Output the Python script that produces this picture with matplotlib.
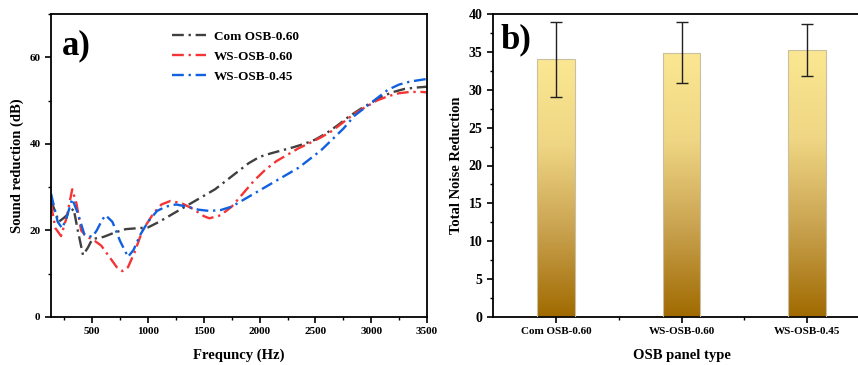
import numpy as np
import matplotlib
matplotlib.use("Agg")
import matplotlib.pyplot as plt
from matplotlib.colors import LinearSegmentedColormap

plt.rcParams['font.family'] = ['Liberation Serif', 'DejaVu Serif']
plt.rcParams['font.weight'] = 'bold'

# ---- data: panel a ----
freq_com = [130, 200, 250, 333, 370, 417, 460, 500, 600, 700, 800, 900, 1000, 1100, 1200, 1300,
            1400, 1500, 1600, 1700, 1800, 1900, 2000, 2100, 2200, 2300, 2400, 2500, 2600,
            2700, 2800, 2900, 3000, 3100, 3200, 3300, 3400, 3500]
sr_com = [27.0, 22.0, 23.0, 25.0, 20.0, 14.3, 16.0, 18.0, 18.5, 19.5, 20.3, 20.5, 20.7, 22.0, 23.5, 25.0,
          26.5, 28.0, 29.5, 31.5, 33.5, 35.5, 37.0, 37.8, 38.5, 39.2, 40.0, 41.0, 42.5,
          44.3, 46.3, 48.0, 49.5, 51.0, 52.0, 52.7, 53.0, 53.2]

freq_ws60 = [130, 170, 220, 270, 320, 360, 400, 450, 500, 580, 650, 720, 770, 820, 880, 950,
             1050, 1120, 1200, 1300, 1400, 1500, 1550, 1650, 1750, 1850, 1950, 2050, 2150,
             2250, 2350, 2450, 2550, 2650, 2750, 2850, 2950, 3050, 3150, 3250, 3350, 3450, 3500]
sr_ws60 = [26.0, 20.5, 18.7, 23.0, 29.5, 26.0, 20.0, 18.5, 18.0, 16.5, 14.0, 11.5, 10.6, 11.5, 15.0, 20.0,
           24.0, 26.0, 26.8, 26.3, 25.0, 23.3, 22.8, 23.5, 25.5, 28.5, 31.5, 34.0, 36.0,
           37.5, 39.0, 40.2, 41.5, 43.0, 45.0, 47.0, 48.5, 50.0, 51.0, 51.7, 52.0, 52.0, 51.9]

freq_ws45 = [130, 190, 230, 270, 320, 370, 430, 500, 540, 590, 620, 680, 750, 820, 870, 930,
             1000, 1080, 1160, 1250, 1350, 1450, 1550, 1650, 1750, 1850, 1950, 2050, 2150,
             2250, 2350, 2450, 2550, 2650, 2750, 2850, 2950, 3050, 3150, 3250, 3350, 3450, 3500]
sr_ws45 = [28.5, 22.0, 20.5, 23.0, 27.3, 24.0, 19.0, 18.5, 20.0, 22.5, 23.5, 22.0, 17.5, 13.9, 15.5, 19.0,
           22.0, 24.5, 25.5, 26.0, 25.5, 24.8, 24.5, 24.7, 25.5, 27.0, 28.5, 30.0, 31.5,
           33.0, 34.5, 36.5, 38.5, 41.0, 43.5, 46.5, 48.5, 50.5, 52.5, 53.7, 54.4, 54.8, 55.0]

# ---- data: panel b ----
panel_types = ['Com OSB-0.60', 'WS-OSB-0.60', 'WS-OSB-0.45']
total_nr = [34.0, 34.9, 35.2]
total_nr_err = [5.0, 4.0, 3.45]

W, H = 858, 365
fig = plt.figure(figsize=(W / 100, H / 100), dpi=100)

def box(l, t, r, b):
    return [l / W, 1 - b / H, (r - l) / W, (b - t) / H]

dash = (5, 2, 1, 2)

# ---------- panel a ----------
ax1 = fig.add_axes(box(51, 14, 427, 317))
ax1.plot(freq_com, sr_com, color='#404040', ls=(0, dash), lw=1.7, label='Com OSB-0.60')
ax1.plot(freq_ws60, sr_ws60, color='#F53535', ls=(0, dash), lw=1.7, label='WS-OSB-0.60')
ax1.plot(freq_ws45, sr_ws45, color='#1060E0', ls=(0, dash), lw=1.7, label='WS-OSB-0.45')
ax1.set_xlim(130, 3500)
ax1.set_ylim(0, 70)
ax1.set_xticks([500, 1000, 1500, 2000, 2500, 3000, 3500])
ax1.set_xticks(np.arange(250, 3500, 500), minor=True)
ax1.set_yticks([0, 20, 40, 60])
ax1.set_yticks([10, 30, 50, 70], minor=True)
ax1.tick_params(labelsize=8, width=1.2, length=4, direction='out')
ax1.tick_params(which='minor', width=1.0, length=2.5, direction='out')
for s in ax1.spines.values():
    s.set_linewidth(1.3)
ax1.set_xlabel('Frequncy (Hz)', fontsize=10.5, fontweight='bold', labelpad=9)
ax1.set_ylabel('Sound reduction (dB)', fontsize=10.5, fontweight='bold', labelpad=4)
ax1.text(0.03, 0.95, 'a)', transform=ax1.transAxes, fontsize=25, fontweight='bold', va='top')
leg = ax1.legend(loc='upper left', bbox_to_anchor=(0.29, 0.985), frameon=False, fontsize=9.5,
                 handlelength=2.6, labelspacing=0.6, handletextpad=0.6)

# ---------- panel b ----------
ax2 = fig.add_axes(box(493, 14, 870, 317))
x = np.arange(len(panel_types))
bars = ax2.bar(x, total_nr, width=0.3, color='none', edgecolor='#C8C0A0', lw=0.8, zorder=3)
cmap = LinearSegmentedColormap.from_list('gold', ['#A06A00', '#C9A24F', '#EFD684', '#FBE792'])
grad = np.linspace(0, 1, 256).reshape(-1, 1)
for b in bars:
    bx, by = b.get_x(), b.get_y()
    bw, bh = b.get_width(), b.get_height()
    im = ax2.imshow(grad, cmap=cmap, aspect='auto', origin='lower',
                    extent=[bx, bx + bw, by, by + bh], zorder=2)
    im.set_clip_path(b)
ax2.errorbar(x, total_nr, yerr=total_nr_err, fmt='none', ecolor='#202020', elinewidth=1.0,
             capsize=4, capthick=1.0, zorder=4)
ax2.set_xlim(-0.5, 2.5)
ax2.set_ylim(0, 40)
ax2.set_xticks(x)
ax2.set_xticklabels(panel_types)
ax2.set_xticks([0.5, 1.5], minor=True)
ax2.set_yticks(np.arange(0, 41, 5))
ax2.set_yticks(np.arange(2.5, 40, 5), minor=True)
ax2.tick_params(labelsize=8, width=1.2, length=4, direction='out')
ax2.tick_params(axis='y', labelsize=10)
ax2.tick_params(which='minor', width=1.0, length=2.5, direction='out')
for s in ax2.spines.values():
    s.set_linewidth(1.3)
ax2.set_xlabel('OSB panel type', fontsize=10.5, fontweight='bold', labelpad=9)
ax2.set_ylabel('Total Noise Reduction', fontsize=10.5, fontweight='bold', labelpad=4)
ax2.text(0.02, 0.97, 'b)', transform=ax2.transAxes, fontsize=25, fontweight='bold', va='top')

fig.savefig('out.png', dpi=100)
